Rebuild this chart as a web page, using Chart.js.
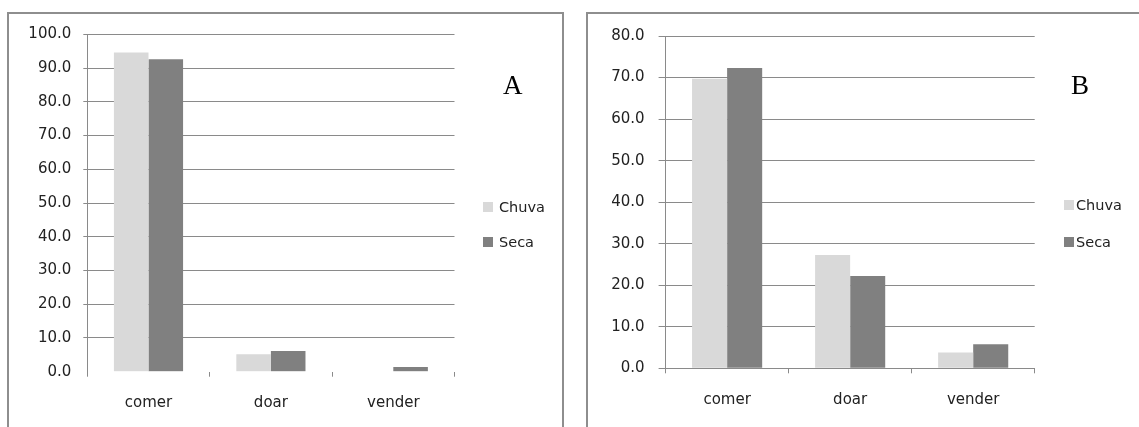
<!DOCTYPE html>
<html>
<head>
<meta charset="utf-8">
<title>Uso por estação</title>
<script src="https://cdn.jsdelivr.net/npm/chart.js@4/dist/chart.umd.min.js"></script>
<style>
  html, body { margin: 0; padding: 0; background: #ffffff; }
  body { width: 1139px; height: 427px; position: relative; overflow: hidden; }
  .panel { position: absolute; box-sizing: border-box; border: 2px solid #8e8e8e; background: #ffffff; }
  canvas { position: absolute; top: 0; }
  .letter { position: absolute; font-family: "Liberation Serif", "Times New Roman", serif; font-size: 27px; line-height: 27px; color: #000; }
  .leg { position: absolute; font-family: "DejaVu Sans", sans-serif; font-size: 14.5px; line-height: 14.5px; color: #222; white-space: nowrap; }
  .sw { position: absolute; width: 10px; height: 10px; }
</style>
</head>
<body>
<div class="panel" style="left:7px; top:12px; width:557px; height:440px;"></div>
<div class="panel" style="left:586px; top:12px; width:600px; height:440px;"></div>
<canvas id="chartA" width="570" height="427" style="left:0px;"></canvas>
<canvas id="chartB" width="569" height="427" style="left:570px;"></canvas>
<div class="letter" id="letterA" style="left:503px; top:72px;">A</div>
<div class="letter" id="letterB" style="left:1071px; top:72px;">B</div>
<div id="legends"></div>
<script>
// Categories and series values (percent of responses)
const categories = ['comer', 'doar', 'vender'];
const seriesNames = ['Chuva', 'Seca'];

// Panel A
const chuvaA = [94.6, 5.2, 0];
const secaA  = [92.6, 6.1, 1.4];
const yTicksA = [0, 10, 20, 30, 40, 50, 60, 70, 80, 90, 100];

// Panel B
const chuvaB = [69.7, 27.3, 3.8];
const secaB  = [72.3, 22.2, 5.8];
const yTicksB = [0, 10, 20, 30, 40, 50, 60, 70, 80];

// Styling
const seriesColors = ['#d9d9d9', '#808080'];
const gridColor = '#8a8a8a';
const textColor = '#222222';
const fontFamily = "'DejaVu Sans', sans-serif";

function makeChart(canvasId, chuva, seca, yTicks, geom) {
  const ctx = document.getElementById(canvasId);
  return new Chart(ctx, {
    type: 'bar',
    data: {
      labels: categories,
      datasets: [
        { label: seriesNames[0], data: chuva, backgroundColor: seriesColors[0], borderWidth: 0,
          categoryPercentage: geom.catPct, barPercentage: 1.0 },
        { label: seriesNames[1], data: seca, backgroundColor: seriesColors[1], borderWidth: 0,
          categoryPercentage: geom.catPct, barPercentage: 1.0 }
      ]
    },
    options: {
      responsive: false,
      animation: false,
      events: [],
      layout: { padding: { left: 0, top: geom.top, right: geom.right, bottom: 0 } },
      plugins: { legend: { display: false }, tooltip: { enabled: false }, title: { display: false } },
      scales: {
        x: {
          offset: true,
          grid: {
            offset: true,
            drawOnChartArea: false,
            drawTicks: true,
            tickLength: 5,
            tickColor: gridColor,
            lineWidth: 1
          },
          border: { display: geom.xBorder, color: gridColor, width: 1 },
          ticks: {
            color: textColor,
            padding: geom.xPad,
            font: { family: fontFamily, size: 15 },
            maxRotation: 0
          },
          afterFit: (s) => { s.height = geom.xHeight; }
        },
        y: {
          min: yTicks[0],
          max: yTicks[yTicks.length - 1],
          afterBuildTicks: (s) => { s.ticks = yTicks.map(v => ({ value: v })); },
          grid: {
            color: (c) => (c.tick && c.tick.value === 0 && !geom.zeroLine) ? 'rgba(0,0,0,0)' : gridColor,
            tickColor: (c) => (c.tick && c.tick.value === 0 && !geom.zeroLine) ? 'rgba(0,0,0,0)' : gridColor,
            tickLength: geom.yTickLen,
            lineWidth: 1
          },
          border: { display: true, color: gridColor, width: 1 },
          ticks: {
            color: textColor,
            padding: geom.yPad,
            font: { family: fontFamily, size: 15 },
            callback: (v) => Number(v).toFixed(1)
          },
          afterFit: (s) => { s.width = geom.left; }
        }
      }
    }
  });
}

makeChart('chartA', chuvaA, secaA, yTicksA, {
  catPct: 0.565, top: 34.3, right: 570 - 454.5, left: 87.3,
  xHeight: 427 - 371.7, xPad: 17, xBorder: false, zeroLine: false,
  yTickLen: 4, yPad: 12
});

makeChart('chartB', chuvaB, secaB, yTicksB, {
  catPct: 0.57, top: 36, right: 569 - 464.7, left: 95.6,
  xHeight: 427 - 368.3, xPad: 17.5, xBorder: true, zeroLine: true,
  yTickLen: 7, yPad: 14
});

// Legends for both panels, built from the series names and colours
const legendSpots = [
  { swX: 483, textX: 499, rows: [202, 237] },
  { swX: 1064, textX: 1076, rows: [200, 237] }
];
const legendHost = document.getElementById('legends');
legendSpots.forEach(spot => {
  seriesNames.forEach((name, i) => {
    const sw = document.createElement('div');
    sw.className = 'sw';
    sw.style.left = spot.swX + 'px';
    sw.style.top = spot.rows[i] + 'px';
    sw.style.background = seriesColors[i];
    legendHost.appendChild(sw);
    const t = document.createElement('div');
    t.className = 'leg';
    t.textContent = name;
    t.style.left = spot.textX + 'px';
    t.style.top = (spot.rows[i] - 2) + 'px';
    legendHost.appendChild(t);
  });
});
</script>
</body>
</html>
